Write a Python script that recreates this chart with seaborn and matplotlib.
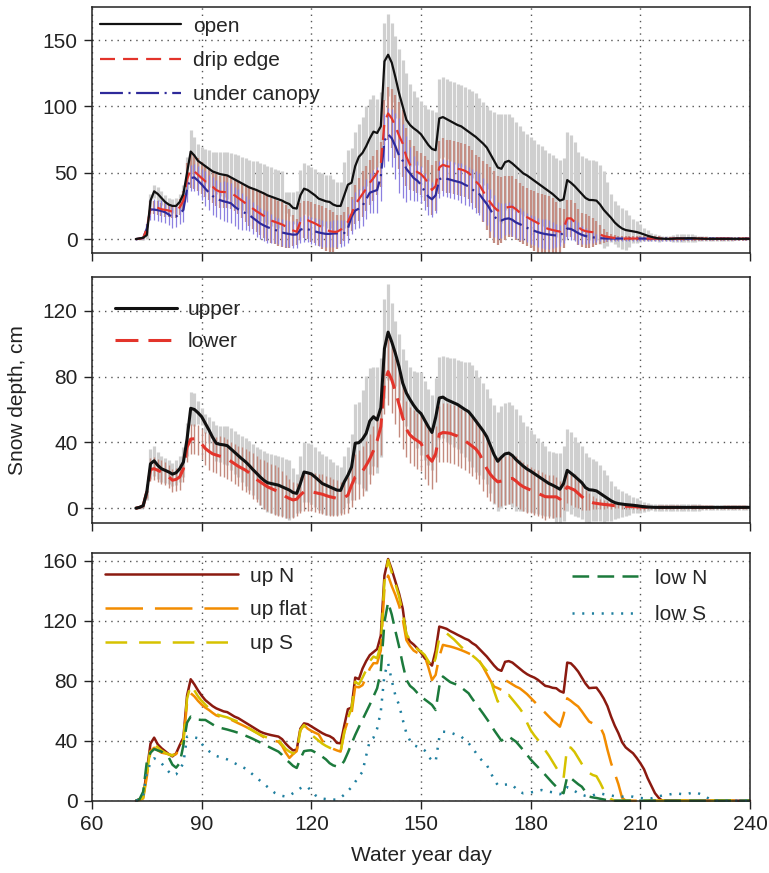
import numpy as np
import matplotlib
matplotlib.use("Agg")
import matplotlib.pyplot as plt
import seaborn as sns

# ---------------- data (water year day 72 .. 240) ----------------
day = list(range(72, 241))

# panel (a): open / drip edge / under canopy  (mean and sd, cm)
open_mean = [0, 0.5, 1, 3, 29, 36, 34, 31, 28, 26,
             25, 25, 28, 34, 50, 66, 63, 59, 57, 55,
             53, 51, 50, 49, 48.5, 48, 46.5, 45, 43.5, 42,
             40.5, 39, 38, 37, 35.7, 34.5, 33, 32, 31, 30,
             29, 27.5, 26.4, 23.5, 23, 33, 38, 37, 35, 33,
             30.5, 29.5, 28.5, 28, 26, 25, 25, 33, 41, 42.5,
             55, 62, 65, 70, 76, 81, 80, 85, 134, 139,
             133, 122, 110, 100, 90, 86, 83.5, 81.5, 79, 75,
             71, 68, 67, 91, 92, 90.5, 89, 87.5, 86, 85,
             83, 81, 79, 77, 74.5, 72, 69, 64, 59, 54,
             53, 58, 59, 57, 54.5, 52, 49.5, 48, 46, 44,
             42, 40, 38, 36, 34, 31.5, 29, 30, 44.5, 42.5,
             40, 37, 34, 31, 29.5, 29.4, 29, 26, 22, 19,
             16, 12.5, 10, 8, 6.8, 6.3, 5.8, 5.3, 4.5, 3.5,
             2.5, 1.7, 1, 0.5, 0.3, 0.2, 0.2, 0.3, 0.5, 0.5,
             0.5, 0.6, 0.6, 0.5, 0.4, 0.3, 0.2, 0.2, 0.2, 0.2,
             0.2, 0.2, 0.2, 0.2, 0.2, 0.2, 0.2, 0.2, 0.2]
open_sd = [0.5, 1, 1.5, 3, 5, 5, 5, 5, 5, 5,
           5, 6, 6, 7, 12, 16, 14, 13, 12.6, 13,
           14, 15, 16, 16.5, 17, 17.5, 18.5, 19, 20, 20,
           20.5, 21, 21, 21.5, 22, 22, 22, 22, 22, 22,
           22, 8, 9, 12, 13, 19, 19, 19, 19.5, 20,
           20, 20, 20, 20, 19, 18, 18, 25, 26, 26,
           26, 25, 27, 30, 30, 28, 26, 26, 29, 31,
           30, 31, 33, 35, 35, 31, 28, 26, 25, 26,
           27, 29, 29, 30, 30, 30, 30, 31, 31, 31,
           32, 32, 33, 33, 32, 31, 31, 33, 37, 40,
           41, 36, 35, 35, 34, 33, 32, 31, 31, 31,
           30, 30, 29, 29, 29.5, 30, 31, 31, 36, 36,
           33, 29, 29, 30, 30, 30, 30, 29.5, 29, 24,
           18, 16, 16, 15.5, 15, 12, 9, 8, 7, 5,
           4, 3, 2.5, 2.5, 2, 2, 2, 2.5, 3, 3,
           3, 3, 3, 2.5, 2, 2, 2, 1.5, 1.5, 1.5,
           1.5, 1.5, 1.5, 1.5, 1, 1, 1, 1, 1]
drip_mean = [0, 0.3, 0.8, 8, 24, 24, 23.5, 22.5, 22, 21.5,
             20.6, 21, 24, 29, 45, 52.5, 51, 48.5, 46, 43.5,
             41.5, 39.5, 37, 35.7, 35.5, 35.2, 34.5, 33, 31, 29,
             27, 25, 23, 21, 19.3, 17.5, 15.5, 14, 13, 12,
             11, 9.5, 8, 6.5, 5.5, 13, 14.8, 14.2, 13, 11.8,
             10.3, 8.8, 7.2, 6, 5.5, 5.5, 7, 9.5, 13, 19,
             26, 30, 34, 38, 42.5, 46, 50, 56, 88, 94.7,
             91, 85, 78, 72, 62, 56, 53, 50.5, 49, 46,
             42, 37, 40, 54, 56, 55, 54.5, 54, 53, 52.5,
             51.5, 50, 47, 43.5, 40.7, 36, 31.5, 27.5, 24, 21.5,
             22, 23.5, 24.2, 24.4, 22.5, 20, 18, 16.5, 15, 13.5,
             12, 10, 8.5, 7.5, 6.8, 6.2, 5.6, 8, 15.6, 15.6,
             13, 9, 7, 6, 5.5, 5.2, 4.8, 3.5, 2.3, 1.7,
             1.2, 0.9, 0.6, 0.5, 0.4, 0.4, 0.4, 0.4, 0.4, 0.4,
             0.4, 0.4, 0.4, 0.4, 0.3, 0.3, 0.3, 0.3, 0.3, 0.3,
             0.3, 0.3, 0.3, 0.3, 0.3, 0.3, 0.3, 0.3, 0.3, 0.3,
             0.3, 0.3, 0.3, 0.3, 0.3, 0.3, 0.3, 0.3, 0.3]
drip_sd = [0.5, 0.8, 1, 3, 5, 5, 5, 5, 5, 5,
           5, 5, 6, 7, 12, 14, 13, 12.5, 12, 12,
           12, 12, 12, 12, 12, 12, 12, 12, 12, 13,
           14, 15, 15.5, 16, 16.5, 17, 17, 17, 17, 17,
           17, 16, 15, 12, 10, 14, 14, 14.5, 15, 15,
           15.5, 16, 16, 16, 15, 13, 11, 11, 11, 13,
           15, 16, 17, 17, 17, 17, 17, 17, 17, 20,
           22, 24, 25, 25, 22, 19, 17, 16, 16, 17,
           18, 19, 19, 20, 20, 20, 20, 20, 20, 20,
           20, 20, 20, 20, 21, 23, 25, 27, 27, 26,
           25, 24, 23, 23, 23, 22.5, 22, 22, 22, 22.5,
           23, 24, 24.5, 25, 24, 22, 18, 15, 14, 14,
           14, 13.5, 13, 13, 12, 11, 9, 7, 5, 4,
           3, 2.5, 2, 2, 2, 2, 2, 2, 2, 2,
           2, 2, 2, 2, 1.5, 1.5, 1.5, 1.5, 1.5, 1.5,
           1.5, 1.5, 1.5, 1.5, 1.5, 1.5, 1.5, 1.5, 1.5, 1.5,
           1.5, 1.5, 1.5, 1.5, 1.5, 1.5, 1.5, 1.5, 1.5]
under_mean = [0, 0.3, 0.8, 8, 22.4, 22.2, 21.8, 21.2, 20.2, 18.5,
              16.3, 17, 19.3, 22, 38, 46, 46.5, 44, 41.2, 38,
              35, 32.5, 30.5, 29.4, 28.5, 27.8, 27, 24.5, 22.5, 21,
              19.5, 18.1, 16, 13.8, 11.8, 10.3, 9, 8, 7, 6,
              5, 4.3, 3.8, 3.3, 3.5, 7, 8, 7.5, 6.5, 5.8,
              5, 4.4, 3.9, 3.9, 4.2, 4.3, 4.3, 4.5, 8, 17,
              21.5, 23, 25, 30, 35, 36, 37, 47, 74, 79,
              76, 70, 63, 59, 53, 49.5, 46, 44, 41, 36,
              32, 30, 33, 45, 46.5, 45.5, 44.8, 44, 43.3, 42.5,
              41, 39.7, 37.5, 35.5, 33.8, 30, 26.5, 22, 17.5, 14,
              14, 15.2, 15.6, 14.5, 12.5, 11.3, 10, 8.5, 7.2, 6.2,
              5.2, 4.4, 3.8, 3.4, 3, 2.7, 2.5, 5, 8, 7.6,
              6.2, 4.5, 3.2, 2.3, 1.7, 1.3, 1, 0.7, 0.5, 0.4,
              0.4, 0.4, 0.4, 0.4, 0.4, 0.4, 0.4, 0.4, 0.4, 0.4,
              0.3, 0.3, 0.3, 0.3, 0.3, 0.3, 0.3, 0.3, 0.3, 0.3,
              0.3, 0.3, 0.3, 0.3, 0.3, 0.3, 0.3, 0.3, 0.3, 0.3,
              0.3, 0.3, 0.3, 0.3, 0.3, 0.3, 0.3, 0.3, 0.3]
under_sd = [0.5, 0.5, 1, 3, 8, 8, 8, 8, 8, 8,
            8, 8, 8, 9, 10, 10, 10, 11, 12, 13,
            13, 14, 14, 14, 15, 15, 15, 15, 15, 14,
            13, 12, 12, 12, 12, 12, 12, 11, 10, 10,
            10, 10, 10, 10, 10, 10, 10, 10, 10, 10,
            10, 10, 10, 10, 10, 10, 10, 10, 11, 13,
            14, 15, 15, 15, 15, 16, 17, 18, 20, 20,
            22, 25, 28, 28, 25, 20, 17, 15, 14, 14,
            14, 13, 13, 14, 14, 14, 14, 14, 14, 15,
            15, 15, 15, 16, 16, 16, 16, 16, 16, 14,
            13, 12, 12, 12, 12, 12, 11, 11, 11, 11,
            11, 11, 11, 11, 10, 9, 8, 8, 8, 8,
            8, 8, 7, 6, 5, 4, 3, 2.5, 2, 2,
            1.5, 1.5, 1.5, 1.5, 1.5, 1.5, 1.5, 1.5, 1.5, 1.5,
            1.5, 1.5, 1.5, 1.5, 1.5, 1.5, 1.5, 1.5, 1.5, 1.5,
            1, 1, 1, 1, 1, 1, 1, 1, 1, 1,
            1, 1, 1, 1, 1, 1, 1, 1, 1]

# panel (b): upper / lower elevation
upper_mean = [0, 0.5, 1.5, 10, 27, 28.8, 26, 24, 23, 22,
              20.7, 21.5, 24, 28, 42, 60.7, 60, 58, 55.6, 51.5,
              47.5, 43, 39.4, 38.8, 38.5, 38, 36, 34, 32, 30,
              28.2, 26, 23.5, 21.3, 19, 17, 15.5, 15, 14.5, 14,
              13, 12, 11, 9.5, 9, 15, 22, 21.5, 20.8, 19,
              17, 15, 14, 13, 12, 11, 10.8, 16, 20, 25,
              39.5, 39.8, 42, 45.5, 53, 55.6, 53.6, 61, 97, 107,
              101, 94, 86, 76, 70, 66, 62.5, 59.5, 57.5, 53.5,
              49.5, 46, 55, 67, 67.5, 66, 65, 64, 63, 61.5,
              60, 58.7, 56, 53, 50, 47, 43.4, 38, 32.5, 28.5,
              31, 33, 33.5, 32, 29.5, 27.5, 25.5, 23.8, 22.5, 21,
              19.5, 18, 16.5, 15, 14, 12.8, 11.5, 15, 23, 21.3,
              19.5, 17.5, 15.5, 12.5, 11.2, 11, 10.5, 9, 7.5, 6,
              4.5, 3.4, 2.8, 2.5, 2.2, 2, 1.8, 1.5, 1.2, 0.9,
              0.7, 0.6, 0.5, 0.5, 0.5, 0.5, 0.5, 0.5, 0.5, 0.5,
              0.5, 0.5, 0.5, 0.5, 0.5, 0.5, 0.5, 0.5, 0.5, 0.5,
              0.5, 0.5, 0.5, 0.5, 0.5, 0.5, 0.5, 0.5, 0.5]
upper_sd = [0.5, 1, 1.5, 5, 9, 9, 8, 8, 7.5, 7,
            7, 7.5, 8, 9, 10, 10, 10, 7, 5, 6,
            8, 10, 11, 11, 11.5, 12, 12.5, 13, 13, 14,
            14.5, 15, 15.5, 16, 17, 17.5, 18, 18, 18, 18,
            18, 18, 18, 15, 12, 17, 18, 18, 18, 18,
            18, 18, 18, 17, 16, 15, 14, 16, 17, 20,
            24, 25, 30, 35, 32, 30, 32, 30, 30, 29,
            24, 20, 20, 21, 20, 20, 21, 23, 25, 24,
            23, 23, 24, 25, 25, 26, 26, 27, 27, 28,
            29, 30, 31, 31, 30, 29, 29, 29, 30, 30,
            31, 31, 31, 31, 31, 29, 27, 26, 25, 24,
            23, 22, 21, 20, 20, 21, 22, 23, 25, 25,
            24, 23, 22, 21, 20, 19, 18, 17, 16, 14,
            12, 10, 9, 8, 7, 6, 5, 4.5, 4, 3,
            2.5, 2, 2, 2, 2, 2, 2, 2, 2, 2,
            2, 2, 2, 2, 2, 1.5, 1.5, 1.5, 1.5, 1.5,
            1.5, 1.5, 1.5, 1.5, 1.5, 1.5, 1.5, 1.5, 1.5]
lower_mean = [0, 0.5, 1.5, 10, 23.5, 24, 23, 22, 21, 19,
              17, 17.5, 19, 24, 37, 42, 42.2, 41.5, 39, 36.3,
              34.5, 33, 32.3, 31.6, 31, 30, 28.5, 27, 25.5, 24.3,
              23.1, 21.5, 19.5, 17.5, 16, 14.5, 13, 12, 11, 10,
              8.5, 7, 5.9, 5, 5.5, 8, 10, 10, 10, 9.5,
              9, 8.5, 7.7, 7, 6.5, 6, 5.7, 6.5, 7.9, 14,
              19, 20.5, 22.5, 26, 30, 35, 41, 49.5, 76, 83,
              78, 71, 63, 55, 48, 44.5, 42.5, 41, 39.4, 35,
              31, 28.5, 33, 45, 46, 45.8, 45.5, 44.6, 43.8, 42.5,
              41, 39.4, 37.7, 36, 33, 28.5, 24, 20.5, 18, 16,
              16.5, 17, 17.8, 18.1, 16.5, 14.5, 13, 12, 11, 10,
              9, 8, 7, 6.9, 6.9, 6.9, 5.5, 9, 13, 12,
              11, 9, 7, 5, 4, 3.3, 2.9, 2.6, 2.3, 2.1,
              1.8, 1.5, 1.4, 1.3, 1.2, 1.1, 1, 0.8, 0.7, 0.6,
              0.5, 0.5, 0.5, 0.5, 0.5, 0.5, 0.5, 0.5, 0.5, 0.5,
              0.5, 0.5, 0.5, 0.5, 0.5, 0.5, 0.5, 0.5, 0.5, 0.5,
              0.5, 0.5, 0.5, 0.5, 0.5, 0.5, 0.5, 0.5, 0.5]
lower_sd = [0.5, 0.5, 1, 4, 7, 7, 7, 7, 7, 7,
            7, 7, 8, 8, 9, 9, 9, 9, 9, 10,
            11, 11, 11, 12, 12, 12, 12, 12, 12, 13,
            13, 13, 14, 14, 14, 15, 15, 15, 15, 15,
            14, 13, 12, 11, 10, 11, 12, 12, 12, 12,
            12, 12, 12, 12, 11, 11, 10, 10, 11, 13,
            14, 15, 15, 15, 15, 15, 16, 17, 19, 20,
            20, 20, 20, 19, 17, 17, 17, 17, 17, 17,
            17, 17, 17, 17, 18, 18, 18, 18, 18, 18,
            18, 18, 18, 18, 18, 18, 17, 16, 15, 15,
            15, 15, 15, 15, 15, 15, 15, 15, 14, 14,
            14, 14, 14, 13, 13, 12, 11, 10, 10, 10,
            10, 9, 8, 6, 5, 4, 3.5, 3, 2.5, 2,
            2, 1.5, 1.5, 1.5, 1.5, 1.5, 1.5, 1.5, 1.5, 1.5,
            1, 1, 1, 1, 1, 1, 1, 1, 1, 1,
            1, 1, 1, 1, 1, 1, 1, 1, 1, 1,
            1, 1, 1, 1, 1, 1, 1, 1, 1]

# panel (c): elevation x aspect
up_N = [0, 1, 2.7, 20, 38, 42, 37.5, 35, 33, 31,
        29.5, 31.5, 37, 42, 70, 80.9, 77.5, 73.5, 70, 67,
        65, 63, 61.5, 60.5, 59.5, 59, 57.5, 56, 55, 53.5,
        52, 50.5, 49, 47.5, 46, 45, 44.3, 43.7, 43.2, 42.7,
        41, 38, 35.5, 33.5, 34, 48, 51.5, 51, 49.5, 48,
        46.5, 45, 43.8, 43, 41.5, 38.5, 38.2, 50, 61, 62,
        82, 81, 88, 93, 97, 99, 101, 110, 150, 161,
        154, 146, 138, 128, 110, 106, 104, 101.5, 98.5, 95,
        92.5, 90, 100, 116, 115.3, 114.5, 113, 111.8, 110.5, 109.3,
        108, 107, 105, 103.5, 101, 98.5, 96, 93, 90, 87.5,
        86.5, 92.5, 93, 92, 90, 88, 86, 84.3, 83, 82,
        80.5, 78.5, 76.5, 76, 75.2, 74.9, 73, 72, 92, 91.5,
        89, 86, 82, 78, 75, 75.2, 75.3, 72, 68, 63,
        56, 50, 45, 39, 35.5, 33.5, 31.6, 28.5, 25, 21,
        15, 10, 5, 2, 0, 0, 0, 0, 0, 0,
        0, 0, 0, 0, 0, 0, 0, 0, 0, 0,
        0, 0, 0, 0, 0, 0, 0, 0, 0]
up_flat = [0, 0.5, 1.5, 16, 33, 35.3, 33.5, 32, 31.5, 30.9,
           30.3, 31, 35, 40, 65, 71.6, 69.5, 66.5, 64, 62,
           60.4, 58.5, 56.8, 56, 55.5, 55, 54, 52.8, 51.6, 50.5,
           49.3, 48, 46.8, 45.3, 43.8, 42.3, 41.2, 40.5, 39.8, 39.3,
           36.5, 32, 28.5, 31, 33, 47, 50.4, 48, 46.5, 45.3,
           44.2, 40, 36.8, 35.7, 34.5, 33.5, 32.7, 46, 53, 58,
           76, 75.5, 77, 82, 88, 91.6, 91.6, 100, 141.6, 150,
           143, 137, 130, 121, 107, 103, 100, 98.5, 97.5, 96.5,
           89, 80.4, 83.8, 96, 103.8, 103.2, 102.7, 102, 101.2, 100.3,
           99.3, 98.2, 97, 96, 93, 89, 84.5, 80, 76, 75,
           73.8, 80.4, 79, 77.5, 76, 74.9, 73, 71, 68.5, 66,
           63.5, 61, 58.5, 56, 53.5, 51.5, 49.3, 57, 68.2, 66.5,
           64.5, 62.7, 59.5, 56, 52.7, 51.5, 50.3, 49.3, 44, 34,
           25, 18.2, 11, 2, 0, 0, 0, 0, 0, 0,
           0, 0, 0, 0, 0, 0, 0, 0, 0, 0,
           0, 0, 0, 0, 0, 0, 0, 0, 0, 0,
           0, 0, 0, 0, 0, 0, 0, 0, 0]
up_S = [0, 0.7, 2, 18, 35, 38.2, 35.5, 33.5, 32, 30.8,
        30, 32.5, 36, 39.5, 68, 77.1, 73.5, 69.5, 66.5, 64,
        61.5, 59, 57.6, 56.8, 56.1, 55.5, 54.5, 53.5, 52.7, 51.3,
        49.8, 48.2, 46.6, 45.3, 44, 42.9, 42, 41.3, 40.8, 40.4,
        37.5, 34.5, 32.7, 31.6, 32, 47, 50.4, 47, 44, 42,
        40, 38, 36.5, 35.3, 34.2, 33, 32.7, 45, 55, 61.6,
        79.3, 77.5, 82, 87, 93, 96, 94.9, 104, 146, 160.4,
        152, 144.5, 136, 125, 111, 107, 103.5, 101, 99.3, 97.1,
        93, 88.2, 95, 108.5, 110.5, 111.6, 109.5, 107.5, 105, 102.5,
        100.4, 98.7, 96.8, 94.8, 92.5, 89.5, 86.5, 81, 73, 66,
        69.3, 70, 70.4, 67.5, 64.5, 61.5, 58, 52, 47, 43.5,
        40.5, 37.5, 33.5, 30, 26, 22, 18, 15, 36, 35.3,
        32.5, 28.5, 24.5, 21, 18.5, 17.1, 16.3, 12, 7, 3.5,
        1, 0, 0, 0, 0, 0, 0, 0, 0, 0,
        0, 0, 0, 0, 0, 0, 0, 0, 0, 0,
        0, 0, 0, 0, 0, 0, 0, 0, 0, 0,
        0, 0, 0, 0, 0, 0, 0, 0, 0]
low_N = [0, 1, 6, 26, 32, 34.4, 33.5, 32.7, 30.7, 28.8,
         24, 22, 25, 37, 52, 56, 55, 54, 53.8, 53.8,
         52.3, 50.8, 49.3, 48.6, 48, 47.4, 46.7, 46, 45.2, 44.3,
         43.3, 42.3, 41.2, 40, 38.8, 37.5, 36.3, 35.1, 33.9, 32.7,
         30.5, 27.5, 25.5, 23.2, 21.8, 28, 33, 33.4, 33.6, 32.3,
         30.8, 29.3, 27.5, 25, 23.5, 22.8, 23, 26.5, 32, 38,
         43.8, 49, 54, 59, 64, 69.5, 74.9, 86, 119, 132.2,
         124, 113, 102.7, 91, 80.5, 76.5, 74.5, 71.8, 69.3, 67.5,
         65.7, 63.8, 60.4, 76, 82.7, 80.8, 79, 78, 77.2, 75.5,
         73.5, 71.6, 68, 64.7, 61.5, 58, 54.5, 51, 47, 43.5,
         40, 41.5, 42.7, 41, 39.3, 36.5, 33.6, 30.6, 27.5, 24.8,
         22.3, 19.6, 17.2, 14.5, 11.8, 9.3, 6, 5, 16, 15,
         13, 11, 9.3, 6, 2.7, 2.2, 1.8, 1.3, 0.8, 0.3,
         0, 0, 0, 0, 0, 0, 0, 0, 0, 0,
         0, 0, 0, 0, 0, 0, 0, 0, 0, 0,
         0, 0, 0, 0, 0, 0, 0, 0, 0, 0,
         0, 0, 0, 0, 0, 0, 0, 0, 0]
low_S = [0, 0.5, 3, 19, 25, 28.2, 27, 25, 22, 19.3,
         17, 17.5, 21, 24.9, 42.7, 42.7, 42.2, 41.6, 38, 34.9,
         33, 31.2, 29.8, 29, 28.4, 27.5, 26.3, 25, 23.8, 22.6,
         21.4, 19.5, 17.4, 15.3, 13.3, 11.3, 9.2, 7.2, 5.2, 4,
         3.2, 2.8, 3.4, 5, 6.5, 8.3, 9.5, 9.2, 6.3, 3.8,
         2.2, 1.4, 1.1, 0.9, 0.7, 0.8, 2, 4, 6.5, 9,
         12.5, 16, 19.3, 30, 40, 42, 48, 59.3, 84, 91.6,
         80, 70, 63.8, 54, 45, 40, 37, 36, 35.2, 33.5,
         29.3, 27, 26, 42, 46, 45.8, 45.5, 44.5, 43.5, 42.7,
         40.5, 38.5, 35, 32, 28.5, 26, 23.8, 19, 14, 10.4,
         10.5, 10.7, 10.9, 10.5, 8, 6, 4.9, 5.2, 5.5, 6,
         6.6, 7.1, 6.5, 6, 5.6, 5, 4.3, 6.5, 9, 8.3,
         6.5, 5, 4, 3.2, 2.7, 3.5, 4.5, 4.9, 4.3, 3.8,
         3.5, 3, 2.7, 2.7, 2.7, 2.7, 2.7, 2.2, 1.8, 1.6,
         1.6, 1.6, 2, 2.8, 3.5, 3.8, 4.2, 4.6, 4.9, 4.5,
         4.2, 4.6, 5.2, 5.6, 4.8, 3.8, 2.5, 1, 0, 0,
         0, 0, 0, 0, 0, 0, 0, 0, 0]

series = dict(open_mean=open_mean, open_sd=open_sd, drip_mean=drip_mean, drip_sd=drip_sd,
              under_mean=under_mean, under_sd=under_sd, upper_mean=upper_mean, upper_sd=upper_sd,
              lower_mean=lower_mean, lower_sd=lower_sd, up_N=up_N, up_flat=up_flat, up_S=up_S,
              low_N=low_N, low_S=low_S)
bad = {k: len(v) for k, v in series.items() if len(v) != len(day)}
assert not bad, bad

# ---------------- style ----------------
sns.set_style("ticks")
plt.rcParams['font.family'] = ['Liberation Sans', 'DejaVu Sans']
plt.rcParams['lines.scale_dashes'] = False
FS = 15
INK = '#222222'

W, H = 769, 873
fig = plt.figure(figsize=(W / 100, H / 100), dpi=100)


def add_ax(top, bottom):
    return fig.add_axes([92 / W, 1 - bottom / H, (750 - 92) / W, (bottom - top) / H])


ax1 = add_ax(7, 253)
ax2 = add_ax(277, 523)
ax3 = add_ax(553, 800.7)

d = np.array(day)
A = {k: np.array(v, dtype=float) for k, v in series.items()}

# ---- panel 1 ----
ax1.vlines(d, A['open_mean'] - A['open_sd'], A['open_mean'] + A['open_sd'],
           colors='#cfcfcf', lw=2.3, zorder=1)
ax1.vlines(d, A['drip_mean'] - A['drip_sd'], A['drip_mean'] + A['drip_sd'],
           colors='#c48e84', lw=1.6, zorder=2)
ax1.vlines(d, A['under_mean'] - A['under_sd'], A['under_mean'] + A['under_sd'],
           colors='#8c80e0', lw=0.9, zorder=3)
sns.lineplot(x=d, y=A['open_mean'], ax=ax1, color='#111111', lw=1.6, label='open', zorder=6)
sns.lineplot(x=d, y=A['drip_mean'], ax=ax1, color='#e3342b', lw=1.6,
             linestyle=(0, (10.8, 5.8)), label='drip edge', zorder=5)
sns.lineplot(x=d, y=A['under_mean'], ax=ax1, color='#2e2a9a', lw=1.6,
             linestyle=(0, (16.5, 4, 1.5, 4)), label='under canopy', zorder=4)
ax1.set_ylim(-10.5, 175)
ax1.set_yticks([0, 50, 100, 150])
ax1.legend(loc='upper left', bbox_to_anchor=(0, 0.995), borderaxespad=0, frameon=False,
           fontsize=FS, handlelength=3.85, handletextpad=0.62, labelspacing=0.74)

# ---- panel 2 ----
ax2.vlines(d, A['upper_mean'] - A['upper_sd'], A['upper_mean'] + A['upper_sd'],
           colors='#cfcfcf', lw=2.3, zorder=1)
ax2.vlines(d, A['lower_mean'] - A['lower_sd'], A['lower_mean'] + A['lower_sd'],
           colors='#c48a7e', lw=1.0, zorder=2)
sns.lineplot(x=d, y=A['upper_mean'], ax=ax2, color='#111111', lw=2.2, label='upper', zorder=6)
sns.lineplot(x=d, y=A['lower_mean'], ax=ax2, color='#e3342b', lw=2.2,
             linestyle=(0, (16.5, 7.2)), label='lower', zorder=5)
ax2.set_ylim(-9, 140.5)
ax2.set_yticks([0, 40, 80, 120])
ax2.legend(loc='upper left', bbox_to_anchor=(0.022, 0.94), borderaxespad=0, frameon=False,
           fontsize=FS, handlelength=3.0, handletextpad=0.48, labelspacing=0.62)

# ---- panel 3 ----
for y, c, ls, lab in [(A['up_N'], '#8b1a10', '-', 'up N'),
                      (A['up_flat'], '#f28c00', (0, (27, 8.6)), 'up flat'),
                      (A['up_S'], '#d6c200', (0, (15.6, 8.6)), 'up S'),
                      (A['low_N'], '#1c7a3c', (0, (12, 6)), 'low N'),
                      (A['low_S'], '#1f7f9f', (0, (1.5, 5.5)), 'low S')]:
    sns.lineplot(x=d, y=y, ax=ax3, color=c, lw=1.8, linestyle=ls, label=lab, clip_on=False)
handles, labels = ax3.get_legend_handles_labels()
leg_a = ax3.legend(handles[:3], labels[:3], loc='upper left', bbox_to_anchor=(0.007, 0.978),
                   borderaxespad=0, frameon=False, fontsize=FS, handlelength=6.4,
                   handletextpad=0.58, labelspacing=0.7)
ax3.add_artist(leg_a)
ax3.legend(handles[3:], labels[3:], loc='upper left', bbox_to_anchor=(0.7165, 0.97),
           borderaxespad=0, frameon=False, fontsize=FS, handlelength=3.2,
           handletextpad=0.8, labelspacing=0.82)
ax3.set_ylim(0, 165)
ax3.set_yticks([0, 40, 80, 120, 160])

# ---- shared axis styling ----
for ax in (ax1, ax2, ax3):
    ax.set_xlim(60, 240)
    ax.set_xticks(range(60, 241, 30))
    ax.tick_params(direction='out', length=6, width=1, labelsize=FS, pad=4.5,
                   colors=INK)
    ax.grid(True, linestyle=(0, (1, 3.5)), color='#555555', lw=1)
    ax.set_axisbelow(True)
    ax.set_xlabel('')
    ax.set_ylabel('')
    for s in ax.spines.values():
        s.set_visible(True)
        s.set_linewidth(1.1)
        s.set_color(INK)
ax1.tick_params(labelbottom=False)
ax2.tick_params(labelbottom=False)

ax2.set_ylabel('Snow depth, cm', fontsize=FS, color=INK)
ax2.yaxis.set_label_coords(-0.099, 0.5)
ax3.set_xlabel('Water year day', fontsize=FS, color=INK)
ax3.xaxis.set_label_coords(0.5, -0.183)

fig.savefig('out.png', dpi=100)
